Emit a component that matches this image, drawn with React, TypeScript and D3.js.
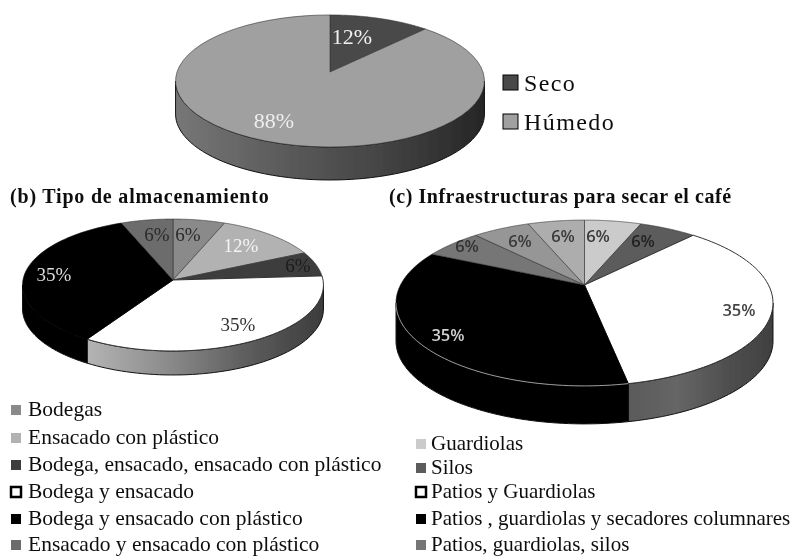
import React from "react";
import * as d3 from "d3";

// (a) tipo de proceso
const processNames = ["Seco", "Húmedo"];
const processValues = [12, 88];
const processColors = ["#4a4a4a", "#a0a0a0"];

// (b) almacenamiento
const storageNames = [
  "Bodegas",
  "Ensacado con plástico",
  "Bodega, ensacado, ensacado con plástico",
  "Bodega y ensacado",
  "Bodega y ensacado con plástico",
  "Ensacado y ensacado con plástico",
];
const storageValues = [6, 12, 6, 35, 35, 6];
const storageColors = ["#8a8a8a", "#b2b2b2", "#3e3e3e", "#ffffff", "#000000", "#6c6c6c"];

// (c) infraestructuras, the last two slices have no row in the legend
const dryingNames = [
  "Guardiolas",
  "Silos",
  "Patios y Guardiolas",
  "Patios , guardiolas y secadores columnares",
  "Patios, guardiolas, silos",
];
const dryingValues = [6, 6, 35, 35, 6, 6, 6];
const dryingColors = ["#cbcbcb", "#5c5c5c", "#ffffff", "#000000", "#767676", "#969696", "#adadad"];

const SERIF = "'Liberation Serif', serif";
const SANS = "'Open Sans', sans-serif";

type Pie3DProps = {
  id: string;
  values: number[];
  colors: string[];
  cx: number;
  cy: number;
  rx: number;
  ry: number;
  k: number;
  depth: number;
  sideStops: string[];
  rimLine?: boolean;
};

// perspective tilt of a circle: the centre of the pie sits above the centre of the ellipse
const Pie3D = ({ id, values, colors, cx, cy, rx, ry, k, depth, sideStops, rimLine }: Pie3DProps) => {
  const project = (a: number, dy = 0): [number, number] => {
    const u = Math.sin(a);
    const v = Math.cos(a);
    const w = 1 + k * v;
    return [cx + (rx * u) / w, cy - (ry * v) / w + dy];
  };
  const arcs = d3.pie<number>().sort(null)(values);
  const line = d3.line();
  const samples = (a0: number, a1: number) =>
    d3.range(0, 61).map((i) => a0 + ((a1 - a0) * i) / 60);

  const frontStart = Math.acos(-k);
  const frontEnd = 2 * Math.PI - frontStart;

  return (
    <g>
      <defs>
        <linearGradient id={id}>
          {sideStops.map((c, i) => (
            <stop key={i} offset={i / (sideStops.length - 1)} stopColor={c} />
          ))}
        </linearGradient>
      </defs>
      {arcs.map((arc, i) => {
        const a0 = Math.max(arc.startAngle, frontStart);
        const a1 = Math.min(arc.endAngle, frontEnd);
        if (a1 <= a0) return null;
        const top = samples(a0, a1).map((a) => project(a));
        const bottom = samples(a1, a0).map((a) => project(a, depth));
        return (
          <path
            key={i}
            d={line([...top, ...bottom]) + "Z"}
            fill={colors[i] === "#000000" ? "#000" : `url(#${id})`}
            stroke="#111"
            strokeWidth={1}
          />
        );
      })}
      {arcs.map((arc, i) => (
        <path
          key={i}
          d={line([[cx, cy], ...samples(arc.startAngle, arc.endAngle).map((a) => project(a))]) + "Z"}
          fill={colors[i]}
          stroke={colors[i] === "#000000" ? "#000" : "#333"}
          strokeWidth={colors[i] === "#ffffff" ? 1 : 0.6}
        />
      ))}
      {rimLine &&
        arcs
          .filter((_, i) => colors[i] === "#000000")
          .map((arc, i) => (
            <path
              key={i}
              d={line(samples(arc.startAngle, Math.min(arc.endAngle, frontEnd)).map((a) => project(a))) ?? ""}
              fill="none"
              stroke="#ddd"
              strokeWidth={0.7}
            />
          ))}
    </g>
  );
};

const Legend = ({ names, colors, x, textX, rows, size, fontSize, stretch, boxed }: {
  names: string[];
  colors: string[];
  x: number;
  textX: number;
  rows: number[];
  size: number;
  fontSize: number;
  stretch: number;
  boxed?: boolean;
}) => (
  <g fontFamily={SERIF} fontSize={fontSize} fill="#111">
    {names.map((name, i) => {
      const dark = colors[i] === "#ffffff" || boxed;
      return (
        <g key={name}>
          <rect
            x={x}
            y={rows[i] - size - 1}
            width={size}
            height={size}
            fill={colors[i]}
            stroke={dark ? "#000" : "none"}
            strokeWidth={colors[i] === "#ffffff" ? 2.5 : 1}
          />
          <text x={textX} y={rows[i]} letterSpacing={stretch}>
            {name}
          </text>
        </g>
      );
    })}
  </g>
);

const PctLabels = ({ labels, font, size, weight }: {
  labels: [string, number, number, string][];
  font: string;
  size: number;
  weight?: number;
}) => (
  <g fontFamily={font} fontSize={size} fontWeight={weight} textAnchor="middle">
    {labels.map(([t, x, y, c], i) => (
      <text key={i} x={x} y={y} fill={c}>
        {t}
      </text>
    ))}
  </g>
);

export default function App() {
  return (
    <svg
      width={794}
      height={556}
      style={{ position: "absolute", left: 0, top: 0, background: "#fff" }}
    >
      <defs>
        <filter id="soft" x="-2%" y="-2%" width="104%" height="104%">
          <feGaussianBlur stdDeviation={0.55} />
        </filter>
      </defs>
      <g filter="url(#soft)">
        <Pie3D
          id="sideA"
          values={processValues}
          colors={processColors}
          cx={330}
          cy={72}
          rx={153}
          ry={64.8}
          k={0.136}
          depth={33}
          sideStops={["#777777", "#5c5c5c", "#444444", "#262626"]}
        />
        <PctLabels
          font={SERIF}
          size={22}
          labels={[
            [`${processValues[0]}%`, 352, 44, "#f0f0f0"],
            [`${processValues[1]}%`, 274, 128, "#eeeeee"],
          ]}
        />
        <Legend
          names={processNames}
          colors={processColors}
          x={503}
          textX={524}
          rows={[91, 130]}
          size={15}
          fontSize={24}
          stretch={1.4}
          boxed
        />

        <text x={10} y={203} fontFamily={SERIF} fontSize={20} fontWeight={700} letterSpacing={0.8} fill="#111">
          (b) Tipo de almacenamiento
        </text>
        <Pie3D
          id="sideB"
          values={storageValues}
          colors={storageColors}
          cx={173}
          cy={280}
          rx={150}
          ry={65.6}
          k={0.076}
          depth={24}
          sideStops={["#b4b4b4", "#8c8c8c", "#5e5e5e", "#3c3c3c"]}
        />
        <PctLabels
          font={SERIF}
          size={19}
          labels={[
            [`${storageValues[5]}%`, 157, 241, "#2a2a2a"],
            [`${storageValues[0]}%`, 188, 241, "#2a2a2a"],
            [`${storageValues[1]}%`, 241, 252, "#f4f4f4"],
            [`${storageValues[2]}%`, 298, 272, "#1c1c1c"],
            [`${storageValues[4]}%`, 54, 281, "#dddddd"],
            [`${storageValues[3]}%`, 238, 331, "#333333"],
          ]}
        />
        <Legend
          names={storageNames}
          colors={storageColors}
          x={11}
          textX={28}
          rows={[416, 444, 471, 498, 525, 551]}
          size={10}
          fontSize={21.5}
          stretch={0}
        />

        <text x={389} y={203} fontFamily={SERIF} fontSize={20} fontWeight={700} letterSpacing={0.55} fill="#111">
          (c) Infraestructuras para secar el café
        </text>
        <Pie3D
          id="sideC"
          values={dryingValues}
          colors={dryingColors}
          cx={584.5}
          cy={285}
          rx={184}
          ry={79}
          k={0.217}
          depth={38}
          sideStops={["#5a5a5a", "#666666", "#505050", "#404040"]}
          rimLine
        />
        <PctLabels
          font={SANS}
          size={16.5}
          weight={600}
          labels={[
            [`${dryingValues[4]}%`, 467, 252, "#333333"],
            [`${dryingValues[5]}%`, 520, 247, "#3a3a3a"],
            [`${dryingValues[6]}%`, 563, 242, "#3a3a3a"],
            [`${dryingValues[0]}%`, 598, 242, "#3a3a3a"],
            [`${dryingValues[1]}%`, 643, 247, "#222222"],
            [`${dryingValues[2]}%`, 739, 316, "#444444"],
            [`${dryingValues[3]}%`, 448, 341, "#d0d0d0"],
          ]}
        />
        <Legend
          names={dryingNames}
          colors={dryingColors.slice(0, 3).concat(["#000000", "#767676"])}
          x={416}
          textX={431}
          rows={[450, 474, 498, 525, 551]}
          size={10}
          fontSize={21}
          stretch={0}
        />
      </g>
    </svg>
  );
}
